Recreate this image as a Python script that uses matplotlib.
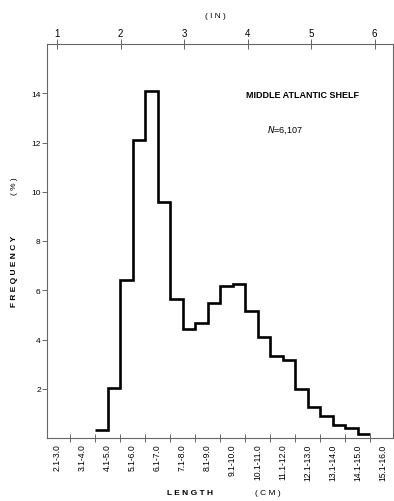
import numpy as np
import matplotlib
matplotlib.use("Agg")
import matplotlib.pyplot as plt

plt.rcParams['font.family'] = ['Liberation Sans', 'DejaVu Sans']

# Bin labels (1-cm classes) shown on the bottom axis
bin_labels = ["2.1-3.0", "3.1-4.0", "4.1-5.0", "5.1-6.0", "6.1-7.0", "7.1-8.0",
              "8.1-9.0", "9.1-10.0", "10.1-11.0", "11.1-12.0", "12.1-13.0",
              "13.1-14.0", "14.1-15.0", "15.1-16.0"]
label_centers_cm = [2.55, 3.55, 4.55, 5.55, 6.55, 7.55, 8.55, 9.55, 10.55,
                    11.55, 12.55, 13.55, 14.55, 15.55]
class_bounds_cm = [3.05, 4.05, 5.05, 6.05, 7.05, 8.05, 9.05, 10.05, 11.05,
                   12.05, 13.05, 14.05, 15.05]

# Histogram (half-cm steps) frequency in %
freq_pct = [0.33, 2.02, 6.43, 12.1, 14.1, 9.58, 5.65, 4.43, 4.66, 5.49, 6.17,
            6.27, 5.16, 4.12, 3.31, 3.18, 1.99, 1.27, 0.90, 0.54, 0.41, 0.15]
hist_start_cm = 4.05
hist_step_cm = 0.5

yticks = [2, 4, 6, 8, 10, 12, 14]
inch_ticks = [1, 2, 3, 4, 5, 6]

W, H = 394, 502
fig = plt.figure(figsize=(W / 100, H / 100), dpi=100)
ax = fig.add_axes([47 / W, 1 - 439 / H, (392.5 - 47) / W, (439 - 45) / H])

edges = hist_start_cm + hist_step_cm * np.arange(len(freq_pct) + 1)
ax.stairs(freq_pct, edges, color='black', linewidth=1.9, baseline=None)

ax.set_xlim(2.13, 15.95)
ax.set_ylim(0, 16)

for s in ax.spines.values():
    s.set_linewidth(0.8)
    s.set_color('#666666')

ax.set_yticks(yticks)
ax.set_yticklabels([str(v) for v in yticks])
ax.tick_params(axis='y', direction='out', length=3.5, width=0.7,
               color='#666666', labelsize=6, pad=1)

ax.set_xticks(class_bounds_cm)
ax.set_xticklabels([])
ax.tick_params(axis='x', direction='inout', length=6, width=0.7,
               color='#666666', bottom=True, top=False)
ax.set_xticks(label_centers_cm, minor=True)
ax.set_xticklabels(bin_labels, minor=True, rotation=90, fontsize=6.2,
                   va='top', ha='center')
ax.tick_params(axis='x', which='minor', length=0, pad=4)

sec = ax.secondary_xaxis('top', functions=(lambda x: x / 2.54, lambda x: x * 2.54))
sec.set_xticks(inch_ticks)
sec.set_xticklabels([str(v) for v in inch_ticks])
sec.tick_params(direction='inout', length=7, width=0.7, color='#666666',
                labelsize=7, pad=1)
sec.spines['top'].set_visible(False)

fig.text(215 / W, 1 - 16 / H, "( I N )", ha='center', va='center', fontsize=6)
fig.text(190 / W, 1 - 494 / H, "L E N G T H", ha='center', va='center',
         fontsize=6, fontweight='bold')
fig.text(268 / W, 1 - 494 / H, "( C M )", ha='center', va='center', fontsize=6)
fig.text(15 / W, 1 - 271 / H, "F R E Q U E N C Y", ha='center', va='center',
         rotation=90, fontsize=6, fontweight='bold')
fig.text(15 / W, 1 - 186 / H, "( % )", ha='center', va='center',
         rotation=90, fontsize=6)

ax.text(303 / W, 1 - 96 / H, "MIDDLE ATLANTIC SHELF", transform=fig.transFigure,
        ha='center', va='center', fontsize=6.5, fontweight='bold')
ax.text(285 / W, 1 - 130 / H, "$N$=6,107", transform=fig.transFigure,
        ha='center', va='center', fontsize=6.5)

fig.savefig("out.png", dpi=100)
